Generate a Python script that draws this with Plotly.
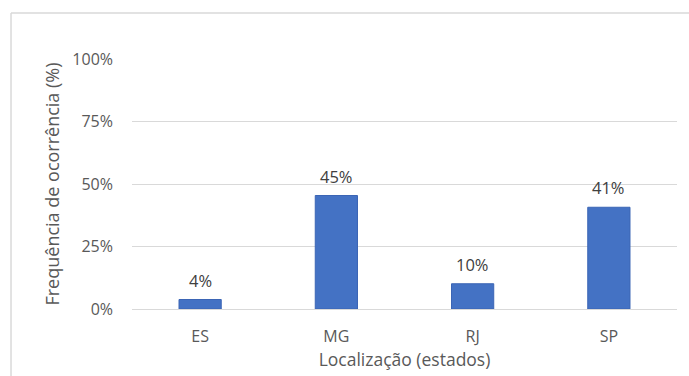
import plotly.graph_objects as go

categories = ["ES", "MG", "RJ", "SP"]
values = [0.038, 0.454, 0.101, 0.407]
y_ticks = [0, 0.25, 0.5, 0.75, 1.0]
y_tick_labels = ["0%", "25%", "50%", "75%", "100%"]

FONT = "Open Sans"
TXT = "#595959"

fig = go.Figure()
fig.add_trace(go.Bar(
    x=categories, y=values,
    marker=dict(color="#4472C4", line=dict(color="#3B65B5", width=1)),
    width=0.31,
    hoverinfo="skip",
))

for c, v in zip(categories, values):
    fig.add_annotation(
        x=c, y=v, text=f"{round(v * 100)}%", showarrow=False,
        yanchor="bottom", yshift=6,
        font=dict(family=FONT, size=16.5, color="#404040"),
    )

# chart border (top and left visible)
fig.add_shape(type="line", xref="paper", yref="paper",
              x0=-0.222, x1=1.03, y0=1.184, y1=1.184,
              line=dict(color="#D9D9D9", width=1.5))
fig.add_shape(type="line", xref="paper", yref="paper",
              x0=-0.222, x1=-0.222, y0=1.184, y1=-0.3,
              line=dict(color="#D9D9D9", width=1.5))

fig.update_layout(
    width=689, height=376,
    margin=dict(l=132, r=12, t=59, b=67, autoexpand=False),
    paper_bgcolor="white", plot_bgcolor="white",
    showlegend=False,
    font=dict(family=FONT, color=TXT, size=16),
    xaxis=dict(
        automargin=False,
        showgrid=False, showline=True, linecolor="#D9D9D9", linewidth=1,
        ticks="", ticklabelstandoff=13,
        tickfont=dict(size=16, color=TXT),
        title=dict(text="Localização (estados)", font=dict(size=17.5, color=TXT), standoff=6),
    ),
    yaxis=dict(
        automargin=False,
        range=[0, 1], tickvals=y_ticks, ticktext=y_tick_labels,
        showgrid=True, gridcolor="#D9D9D9", gridwidth=1,
        zeroline=False, showline=False, ticks="",
        ticklabelstandoff=18,
        tickfont=dict(size=16, color=TXT),
        title=dict(text="Frequência de ocorrência (%)", font=dict(size=18, color=TXT), standoff=8),
    ),
)

fig.write_html("out.html")
